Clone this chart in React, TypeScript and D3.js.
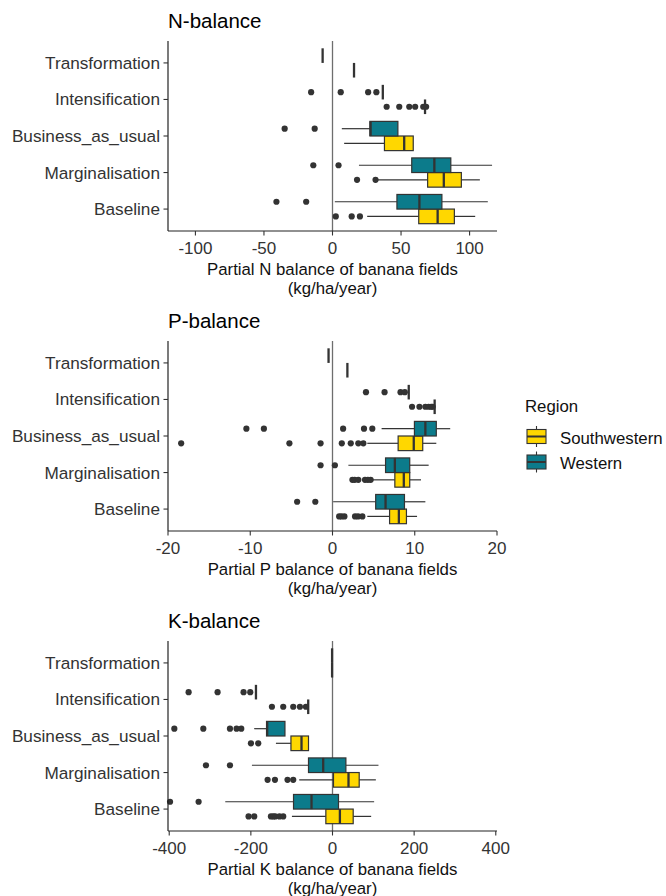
import React from "react";
import * as d3 from "d3";

const scenarios = ["Baseline", "Marginalisation", "Business_as_usual", "Intensification", "Transformation"];
const regions = ["Southwestern", "Western"];
const regionColors = ["#FFD700", "#0C7B8B"];

const panelTitles = ["N-balance", "P-balance", "K-balance"];
const axisTitles = ["Partial N balance of banana fields", "Partial P balance of banana fields", "Partial K balance of banana fields"];
const axisUnit = "(kg/ha/year)";
const nTicks = [-100, -50, 0, 50, 100];
const pTicks = [-20, -10, 0, 10, 20];
const kTicks = [-400, -200, 0, 200, 400];
const nDomain = [-120, 120];
const pDomain = [-20, 20];
const kDomain = [-403, 403];

// stats: [lowerWhisker, q1, median, q3, upperWhisker], order follows scenarios
const nWestern = [
  [1.7, 47, 63.4, 79.8, 113.3],
  [19.3, 57.8, 74.3, 86.3, 116.4],
  [6.8, 27.3, 27.8, 47.7, 47.7],
  [36.7, 36.7, 36.7, 36.7, 36.7],
  [-7.2, -7.2, -7.2, -7.2, -7.2],
];
const nWesternOut = [[-40.9, -19.2], [-14.0, 4.4], [-34.9, -13.0], [-15.6, 6.0, 26.0, 32.0], []];
const nSouth = [
  [25.3, 62.9, 76.7, 88.9, 104.1],
  [33, 69.4, 81.2, 94.0, 107.5],
  [8.5, 37.9, 52.3, 58.9, 58.9],
  [67.5, 67.5, 67.5, 67.5, 67.5],
  [15.7, 15.7, 15.7, 15.7, 15.7],
];
const nSouthOut = [[2.4, 14.0, 20.0], [17.9, 31.4], [], [39.5, 48.7, 56.0, 60.3, 66.2, 68.3], []];

const pWestern = [
  [0.08, 5.25, 6.45, 8.75, 11.29],
  [1.93, 6.45, 7.58, 9.39, 11.69],
  [5.97, 9.96, 11.29, 12.62, 14.31],
  [9.27, 9.27, 9.27, 9.27, 9.27],
  [-0.48, -0.48, -0.48, -0.48, -0.48],
];
const pWesternOut = [[-4.3, -2.09], [-1.45, 0.29], [-10.47, -8.34, 1.29, 3.83, 4.84], [4.07, 6.33, 8.27, 8.79], []];
const pSouth = [
  [4.23, 6.94, 8.07, 8.99, 10.28],
  [4.84, 7.58, 8.67, 9.39, 10.76],
  [4.23, 7.98, 9.88, 10.97, 12.62],
  [12.42, 12.42, 12.42, 12.42, 12.42],
  [1.81, 1.81, 1.81, 1.81, 1.81],
];
const pSouthOut = [
  [0.81, 1.1, 1.45, 2.74, 3.1, 3.63],
  [2.42, 2.7, 3.14, 3.95, 4.3, 4.64],
  [-18.4, -5.24, -1.45, 1.13, 2.22, 3.14, 3.75],
  [9.67, 10.57, 11.29, 11.69, 12.0, 12.18],
  [],
];

const kWestern = [
  [-262.7, -95.5, -51.4, 14.7, 102],
  [-197.4, -58.8, -22.8, 32.8, 112.6],
  [-191.7, -161.6, -160, -116.5, -116.5],
  [-187.5, -187.5, -187.5, -187.5, -187.5],
  [-1, -1, -1, -1, -1],
];
const kWesternOut = [[-398, -328], [-310, -251.2], [-387.5, -316.5, -251.2, -235, -223.5], [-352.5, -281.5, -217.9, -201.5], []];
const kSouth = [
  [-99.4, -16.3, 18.1, 50.7, 94.7],
  [-81.5, 2.4, 39.2, 65.4, 106.2],
  [-138.6, -101.8, -75.9, -58.8, -58.8],
  [-59.5, -59.5, -59.5, -59.5, -59.5],
  [-1, -1, -1, -1, -1],
];
const kSouthOut = [
  [-205.6, -191.7, -150.8, -145, -140.3, -130, -120.7],
  [-159, -141, -110.2, -96.2],
  [-199.8, -181.9],
  [-148.4, -120.7, -96.2, -79.8, -65.1],
  [],
];

const panels = [
  { ticks: nTicks, domain: nDomain, stats: [nSouth, nWestern], outs: [nSouthOut, nWesternOut] },
  { ticks: pTicks, domain: pDomain, stats: [pSouth, pWestern], outs: [pSouthOut, pWesternOut] },
  { ticks: kTicks, domain: kDomain, stats: [kSouth, kWestern], outs: [kSouthOut, kWesternOut] },
];

const FONT = "'Liberation Sans', Arial, sans-serif";
const X0 = 168;
const X1 = 497;
const LABEL = "#333333";

function Panel({ idx }: { idx: number }) {
  const p = panels[idx];
  const top = 41 + 300 * idx;
  const bottom = 231 + 300 * idx;
  const x = d3.scaleLinear().domain(p.domain).range([X0, X1]);
  const y = d3
    .scaleLinear()
    .domain([0.4, scenarios.length + 0.6])
    .range([bottom, top]);
  const unit = Math.abs(y(1) - y(2));
  const dodge = 0.8 * unit;
  const boxH = dodge / 2;
  return (
    <g>
      <text x={X0} y={top - 13} fontSize={20.5} fontFamily={FONT} fill="#000">
        {panelTitles[idx]}
      </text>
      {/* zero reference line */}
      <line x1={x(0)} x2={x(0)} y1={top} y2={bottom} stroke="#6e6e6e" strokeWidth={1.3} />
      {scenarios.map((s, si) => {
        const cy = y(si + 1);
        return regions.map((r, ri) => {
          const st = p.stats[ri][si];
          const outs = p.outs[ri][si];
          const by = ri === 1 ? cy - boxH : cy;
          const my = by + boxH / 2;
          return (
            <g key={s + r}>
              <line x1={x(st[0])} x2={x(st[1])} y1={my} y2={my} stroke="#333" strokeWidth={1.2} />
              <line x1={x(st[3])} x2={x(st[4])} y1={my} y2={my} stroke="#333" strokeWidth={1.2} />
              <rect
                x={x(st[1])}
                y={by}
                width={Math.max(0, x(st[3]) - x(st[1]))}
                height={boxH}
                fill={regionColors[ri]}
                stroke="#333"
                strokeWidth={1.2}
              />
              <line x1={x(st[2])} x2={x(st[2])} y1={by} y2={by + boxH} stroke="#333" strokeWidth={2.3} />
              {outs.map((o, oi) => (
                <circle key={oi} cx={x(o)} cy={my} r={3.1} fill="#333" />
              ))}
            </g>
          );
        });
      })}
      {/* axes */}
      <line x1={X0} x2={X0} y1={top} y2={bottom} stroke="#222" strokeWidth={1.2} />
      <line x1={X0} x2={X1} y1={bottom} y2={bottom} stroke="#222" strokeWidth={1.2} />
      {scenarios.map((s, si) => (
        <g key={s}>
          <line x1={X0 - 4.5} x2={X0} y1={y(si + 1)} y2={y(si + 1)} stroke="#333" strokeWidth={1.1} />
          <text
            x={X0 - 8}
            y={y(si + 1) + 6}
            textAnchor="end"
            fontSize={17.2}
            fontFamily={FONT}
            fill={LABEL}
          >
            {s}
          </text>
        </g>
      ))}
      {p.ticks.map((t) => (
        <g key={t}>
          <line x1={x(t)} x2={x(t)} y1={bottom} y2={bottom + 4.5} stroke="#333" strokeWidth={1.1} />
          <text x={x(t)} y={bottom + 23} textAnchor="middle" fontSize={17} fontFamily={FONT} fill={LABEL}>
            {t}
          </text>
        </g>
      ))}
      <text x={(X0 + X1) / 2} y={bottom + 44} textAnchor="middle" fontSize={16.8} fontFamily={FONT} fill="#111">
        {axisTitles[idx]}
      </text>
      <text x={(X0 + X1) / 2} y={bottom + 63} textAnchor="middle" fontSize={16.8} fontFamily={FONT} fill="#111">
        {axisUnit}
      </text>
    </g>
  );
}

function Legend() {
  const lx = 527;
  const keyW = 19;
  const items = [0, 1];
  return (
    <g>
      <text x={525} y={412} fontSize={16.8} fontFamily={FONT} fill="#111">
        Region
      </text>
      {items.map((ri, i) => {
        const ky = 429.5 + i * 25.5;
        const kh = 14;
        const cx = lx + keyW / 2;
        return (
          <g key={ri}>
            <line x1={cx} x2={cx} y1={ky - 3.5} y2={ky + kh + 3.5} stroke="#333" strokeWidth={1.1} />
            <rect x={lx} y={ky} width={keyW} height={kh} fill={regionColors[ri]} stroke="#333" strokeWidth={1.1} />
            <line x1={lx} x2={lx + keyW} y1={ky + kh / 2} y2={ky + kh / 2} stroke="#333" strokeWidth={2} />
            <text x={560} y={ky + 14} fontSize={16.8} fontFamily={FONT} fill="#111">
              {regions[ri]}
            </text>
          </g>
        );
      })}
    </g>
  );
}

export default function App() {
  return (
    <svg
      width={666}
      height={896}
      style={{ position: "absolute", left: 0, top: 0, background: "#fff" }}
    >
      <rect width={666} height={896} fill="#fff" />
      {[0, 1, 2].map((i) => (
        <Panel key={i} idx={i} />
      ))}
      <Legend />
    </svg>
  );
}
